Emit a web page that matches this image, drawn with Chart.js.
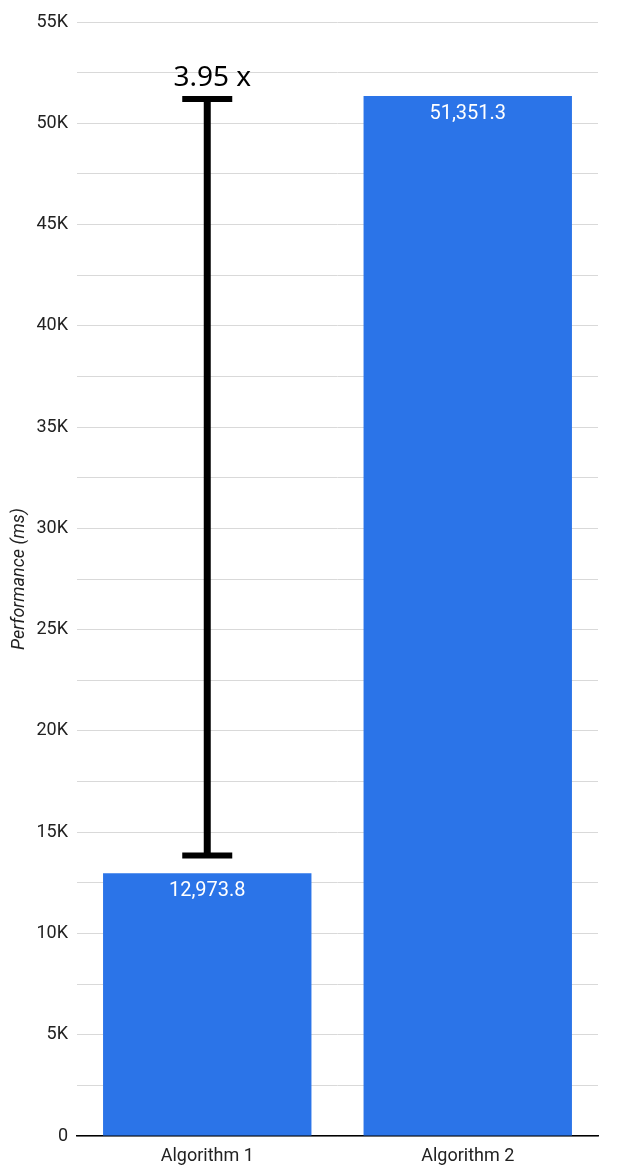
<!DOCTYPE html>
<html>
<head>
<meta charset="utf-8">
<script src="https://cdn.jsdelivr.net/npm/chart.js@4"></script>
<style>
  html, body { margin: 0; padding: 0; background: #fff; }
  #wrap { width: 622px; height: 1172px; position: relative; }
</style>
</head>
<body>
<div id="wrap"><canvas id="perfChart"></canvas></div>
<script>
// chart data
const categories = ['Algorithm 1', 'Algorithm 2'];
const performanceMs = [12973.8, 51351.3];
const yTickLabels = ['0', '5K', '10K', '15K', '20K', '25K', '30K', '35K', '40K', '45K', '50K', '55K'];

// speed-up marker drawn over Algorithm 1
const speedupLow = [13850];
const speedupHigh = [51200];
const speedupText = '3.95 x';

const barColor = '#2b74e8';

// white value labels inside the top of each bar
const valueLabels = {
  id: 'valueLabels',
  afterDatasetsDraw(chart) {
    const ctx = chart.ctx;
    const meta = chart.getDatasetMeta(0);
    ctx.save();
    ctx.fillStyle = '#fff';
    ctx.font = '20px Roboto';
    ctx.textAlign = 'center';
    ctx.textBaseline = 'alphabetic';
    meta.data.forEach((bar, i) => {
      const txt = performanceMs[i].toLocaleString('en-US', { minimumFractionDigits: 1, maximumFractionDigits: 1 });
      ctx.fillText(txt, bar.x, bar.y + 23);
    });
    ctx.restore();
  }
};

// error-bar style bracket showing the ratio
const speedupBracket = {
  id: 'speedupBracket',
  afterDraw(chart) {
    const ctx = chart.ctx;
    const y = chart.scales.y;
    const bar = chart.getDatasetMeta(0).data[0];
    const x = bar.x;
    const yTop = y.getPixelForValue(speedupHigh[0]);
    const yBot = y.getPixelForValue(speedupLow[0]);
    const half = 25;

    ctx.save();
    ctx.strokeStyle = '#000';
    ctx.lineCap = 'butt';

    ctx.lineWidth = 7;
    ctx.beginPath();
    ctx.moveTo(x, yTop);
    ctx.lineTo(x, yBot);
    ctx.stroke();

    ctx.lineWidth = 6;
    ctx.beginPath();
    ctx.moveTo(x - half, yTop);
    ctx.lineTo(x + half, yTop);
    ctx.moveTo(x - half, yBot);
    ctx.lineTo(x + half, yBot);
    ctx.stroke();

    ctx.fillStyle = '#000';
    ctx.font = '28px "Noto Sans"';
    ctx.textAlign = 'center';
    ctx.textBaseline = 'alphabetic';
    ctx.fillText(speedupText, x + 5, yTop - 13);
    ctx.restore();
  }
};

new Chart(document.getElementById('perfChart'), {
  type: 'bar',
  data: {
    labels: categories,
    datasets: [{
      label: 'Performance (ms)',
      data: performanceMs,
      backgroundColor: barColor,
      borderWidth: 0,
      barPercentage: 0.8,
      categoryPercentage: 1.0
    }]
  },
  options: {
    responsive: true,
    maintainAspectRatio: false,
    animation: false,
    layout: {
      padding: { top: 22, right: 24, bottom: 0, left: 0 }
    },
    plugins: {
      legend: { display: false },
      tooltip: { enabled: false }
    },
    scales: {
      x: {
        afterFit(scale) { scale.height = 36; },
        grid: { display: false, drawTicks: false },
        border: { display: true, color: '#000', width: 1.5 },
        ticks: {
          color: '#222',
          font: { family: 'Roboto', size: 18 },
          padding: 10
        }
      },
      y: {
        min: 0,
        max: 55000,
        afterFit(scale) { scale.width = 77; },
        grid: { color: '#d9d9d9', lineWidth: 1, drawTicks: false },
        border: { display: false },
        ticks: {
          stepSize: 2500,
          autoSkip: false,
          color: '#222',
          font: { family: 'Roboto', size: 18 },
          padding: 9,
          callback: (v) => (v % 5000 === 0 ? yTickLabels[v / 5000] : '')
        },
        title: {
          display: true,
          text: 'Performance (ms)',
          color: '#222',
          font: { family: 'Roboto', size: 18, style: 'italic' },
          padding: { top: 9, bottom: 0 }
        }
      }
    }
  },
  plugins: [valueLabels, speedupBracket]
});
</script>
</body>
</html>
